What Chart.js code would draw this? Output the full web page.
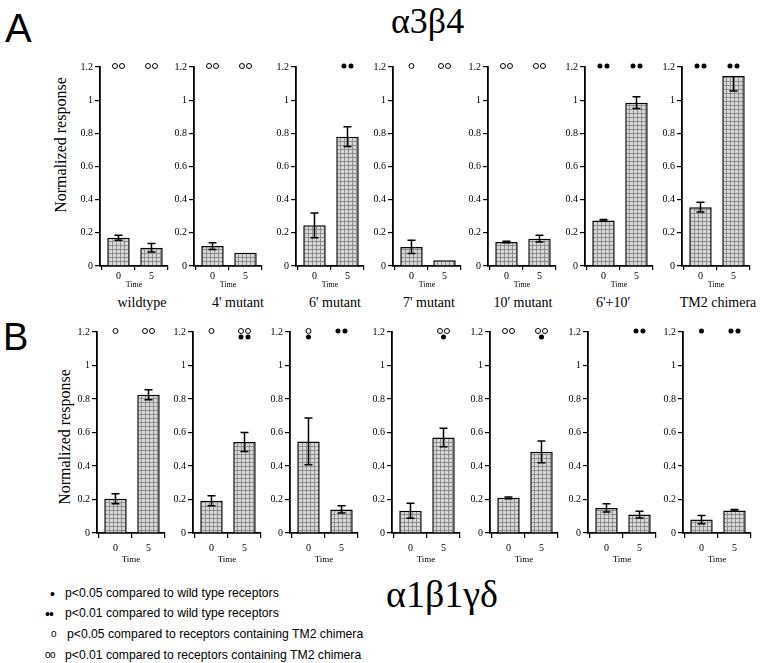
<!DOCTYPE html>
<html>
<head>
<meta charset="utf-8">
<script src="https://cdn.jsdelivr.net/npm/chart.js@4.4.1/dist/chart.umd.min.js"></script>
<style>
  body { margin: 0; background: #fff; width: 761px; height: 663px; position: relative; overflow: hidden; font-family: 'Liberation Serif', serif; color: #000; }
  canvas { position: absolute; }
  .abs { position: absolute; white-space: nowrap; line-height: 1; }
  .ctr { transform: translate(-50%, -50%); }
  .legend { font-family: 'Liberation Sans', Arial, sans-serif; font-size: 12.2px; }
</style>
</head>
<body>

<div class="abs" style="left:5px;top:8px;font:40px/1 'Liberation Sans',sans-serif;">A</div>
<div class="abs" style="left:3px;top:318px;font:38px/1 'Liberation Sans',sans-serif;">B</div>
<div class="abs" style="left:391px;top:3px;font-size:36px;">α3β4</div>
<div class="abs" style="left:386px;top:575px;font-size:38px;">α1β1γδ</div>

<div class="abs ctr" style="left:61px;top:145px;font-size:16px;transform:translate(-50%,-50%) rotate(-90deg);">Normalized response</div>
<div class="abs ctr" style="left:65px;top:437px;font-size:16px;transform:translate(-50%,-50%) rotate(-90deg);">Normalized response</div>

<div id="names"></div>

<div class="abs legend" style="left:50px;top:587px;font-size:14px;">•</div>
<div class="abs legend" style="left:65px;top:587px;">p&lt;0.05 compared to wild type receptors</div>
<div class="abs legend" style="left:45px;top:607px;font-size:14px;letter-spacing:-1px;">••</div>
<div class="abs legend" style="left:65px;top:607px;">p&lt;0.01 compared to wild type receptors</div>
<div class="abs legend" style="left:51px;top:629px;font-size:10px;">o</div>
<div class="abs legend" style="left:67px;top:628px;">p&lt;0.05 compared to receptors containing TM2 chimera</div>
<div class="abs legend" style="left:45px;top:650px;font-size:10px;letter-spacing:-0.5px;">oo</div>
<div class="abs legend" style="left:65px;top:649px;">p&lt;0.01 compared to receptors containing TM2 chimera</div>

<script>
// 横轴时间点 和 纵轴刻度
const times = ['0', '5'];
const yTicks = [0, 0.2, 0.4, 0.6, 0.8, 1, 1.2];

// A 组: α3β4
const namesA = ['wildtype', "4' mutant", "6' mutant", "7' mutant", "10' mutant", "6'+10'", 'TM2 chimera'];
const meanA = [[0.17, 0.11], [0.12, 0.08], [0.245, 0.78], [0.115, 0.035], [0.145, 0.165], [0.275, 0.985], [0.355, 1.145]];
const errA  = [[0.015, 0.025], [0.02, 0], [0.075, 0.06], [0.04, 0], [0.005, 0.02], [0.005, 0.035], [0.03, 0.09]];
const sigA  = [['oo', 'oo'], ['oo', 'oo'], ['', '••'], ['o', 'oo'], ['oo', 'oo'], ['••', '••'], ['••', '••']];

// B 组: α1β1γδ
const meanB = [[0.205, 0.825], [0.193, 0.543], [0.547, 0.141], [0.133, 0.57], [0.21, 0.485], [0.15, 0.11], [0.08, 0.135]];
const errB  = [[0.03, 0.03], [0.03, 0.057], [0.14, 0.022], [0.045, 0.055], [0.005, 0.065], [0.025, 0.02], [0.025, 0.005]];
const sigB  = [['o', 'oo'], ['o', 'oo/••'], ['o/•', '••'], ['', 'oo/•'], ['oo', 'oo/•'], ['', '••'], ['•', '••']];

// 版面位置
const axisXA = [100, 194, 296, 393, 488, 585, 682];
const axisXB = [97, 193, 290, 392, 490, 588, 683];
const nameCenterA = [142, 238, 335, 429, 523, 613, 718];

const serif = "'Liberation Serif', 'Times New Roman', serif";
Chart.defaults.font.family = serif;
Chart.defaults.color = '#000';

// 灰色网格纹理
function makeHatch() {
  const c = document.createElement('canvas');
  c.width = 4; c.height = 4;
  const g = c.getContext('2d');
  g.fillStyle = '#d8d8d8';
  g.fillRect(0, 0, 4, 4);
  g.fillStyle = '#8e8e8e';
  g.fillRect(0, 0, 1, 4);
  g.fillRect(0, 0, 4, 1);
  return g.createPattern(c, 'repeat');
}
const hatch = makeHatch();

// 误差线 + 显著性标记
const extrasPlugin = {
  id: 'extras',
  afterDatasetsDraw(chart) {
    const { ctx, scales: { x, y } } = chart;
    const ds = chart.data.datasets[0];
    ctx.save();
    ctx.strokeStyle = '#000';
    ctx.lineWidth = 1.5;
    ds.data.forEach((pt, i) => {
      const e = ds.errors[i];
      if (!e) return;
      const px = x.getPixelForValue(pt.x);
      // 超出 1.2 的上半段不画
      const up = pt.y + e > y.max ? pt.y : pt.y + e;
      const top = y.getPixelForValue(up);
      const bot = y.getPixelForValue(pt.y - e);
      ctx.beginPath();
      ctx.moveTo(px, top); ctx.lineTo(px, bot);
      if (up !== pt.y) { ctx.moveTo(px - 4, top); ctx.lineTo(px + 4, top); }
      ctx.moveTo(px - 4, bot); ctx.lineTo(px + 4, bot);
      ctx.stroke();
    });
    // 标记画在 1.2 的高度
    const y0 = y.getPixelForValue(1.2);
    ds.marks.forEach((m, i) => {
      if (!m) return;
      const px = x.getPixelForValue(ds.data[i].x);
      m.split('/').forEach((row, r) => {
        const n = row.length;
        for (let k = 0; k < n; k++) {
          const cx = px + (k - (n - 1) / 2) * 7;
          const cy = y0 - 1 + r * 6;
          ctx.beginPath();
          ctx.arc(cx, cy, 2.5, 0, Math.PI * 2);
          if (row[k] === '•') {
            ctx.fillStyle = '#000';
            ctx.fill();
          } else {
            ctx.fillStyle = '#fff';
            ctx.fill();
            ctx.lineWidth = 1;
            ctx.stroke();
          }
        }
      });
    });
    ctx.restore();
  }
};

function drawPanel(left, top, geo, means, errs, marks) {
  const canvas = document.createElement('canvas');
  const W = geo.yw + geo.plotW + 4;
  const H = geo.padTop + geo.plotH + geo.xh;
  canvas.width = W; canvas.height = H;
  canvas.style.left = (left - geo.yw) + 'px';
  canvas.style.top = (top - geo.padTop) + 'px';
  document.body.appendChild(canvas);

  new Chart(canvas, {
    type: 'bar',
    data: {
      datasets: [{
        data: means.map((v, i) => ({ x: i, y: v })),
        errors: errs,
        marks: marks,
        backgroundColor: hatch,
        borderColor: '#000',
        borderWidth: 1.5,
        barPercentage: 0.68,
        categoryPercentage: 1
      }]
    },
    options: {
      responsive: false,
      animation: false,
      events: [],
      layout: { autoPadding: false, padding: { top: geo.padTop, right: 4, bottom: 0, left: 0 } },
      plugins: { legend: { display: false }, tooltip: { enabled: false } },
      scales: {
        x: {
          type: 'linear',
          min: -0.56,
          max: 1.5,
          offset: false,
          afterFit: s => { s.height = geo.xh; },
          afterBuildTicks: s => { s.ticks = [{ value: 0 }, { value: 1 }]; },
          ticks: { font: { family: serif, size: 10 }, padding: geo.xPad, callback: v => times[v], maxRotation: 0 },
          grid: { drawOnChartArea: false, tickLength: geo.xTick, color: '#000', lineWidth: 1.2 },
          border: { color: '#000', width: 1.8 },
          title: { display: true, text: 'Time', font: { family: serif, size: geo.timeSize }, padding: { top: 0, bottom: geo.timePad } }
        },
        y: {
          min: 0,
          max: 1.2,
          afterFit: s => { s.width = geo.yw; },
          afterBuildTicks: s => { s.ticks = yTicks.map(v => ({ value: v })); },
          ticks: { font: { family: serif, size: 10 }, padding: 2, callback: v => String(v) },
          grid: { drawOnChartArea: false, tickLength: 5, color: '#000', lineWidth: 1.2 },
          border: { color: '#000', width: 1.8 }
        }
      }
    },
    plugins: [extrasPlugin]
  });
}

const geoA = { yw: 36, plotW: 68, plotH: 199, padTop: 14, xh: 26, xTick: 4, xPad: 0, timeSize: 8, timePad: 2.2 };
const geoB = { yw: 36, plotW: 68, plotH: 201, padTop: 14, xh: 34, xTick: 5, xPad: 4, timeSize: 9, timePad: 1.6 };

for (let i = 0; i < 7; i++) {
  drawPanel(axisXA[i], 67, geoA, meanA[i], errA[i], sigA[i]);
  drawPanel(axisXB[i], 332, geoB, meanB[i], errB[i], sigB[i]);
}

// 上排每个面板的名字
const namesBox = document.getElementById('names');
namesA.forEach((name, i) => {
  const d = document.createElement('div');
  d.className = 'abs ctr';
  d.style.left = nameCenterA[i] + 'px';
  d.style.top = '303px';
  d.style.fontSize = '14px';
  d.textContent = name;
  namesBox.appendChild(d);
});
</script>
</body>
</html>
